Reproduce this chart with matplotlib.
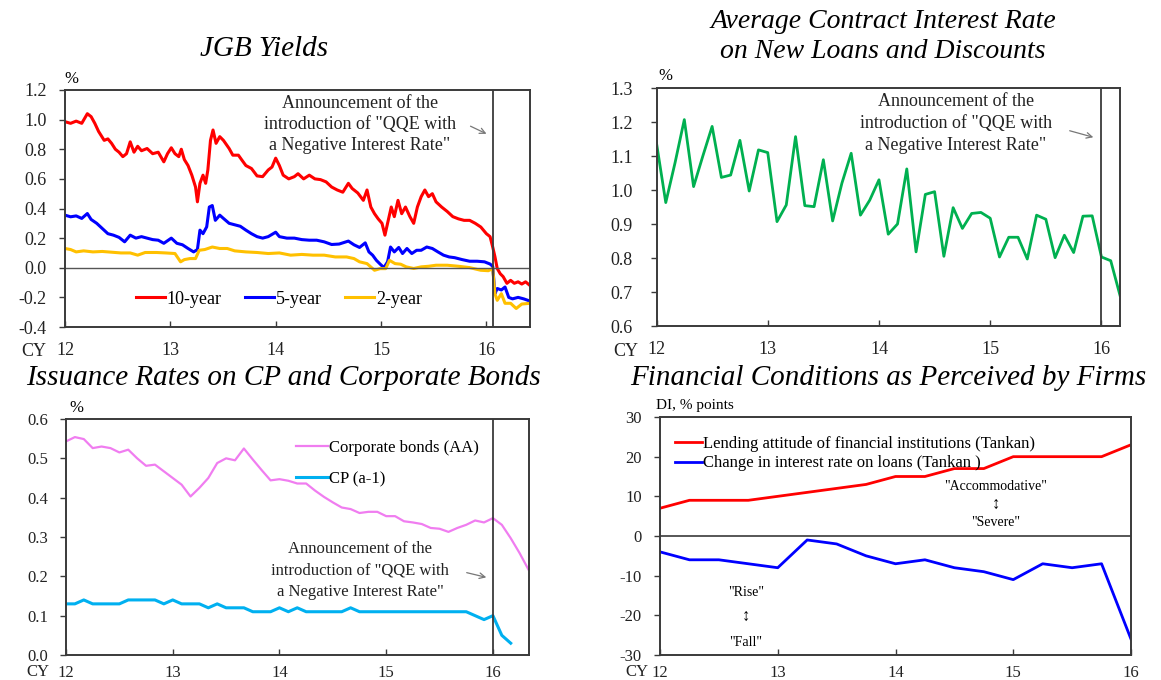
import numpy as np
import matplotlib
matplotlib.use("Agg")
import matplotlib.pyplot as plt

plt.rcParams['font.family'] = ['Liberation Serif', 'DejaVu Sans']

W, H = 1161, 680

# ---------------- Data ----------------
# JGB yields (decimal calendar years, %)
jgb10_t = [12.000, 12.053, 12.106, 12.159, 12.212, 12.248, 12.283, 12.319, 12.372, 12.407, 12.442, 12.478,
           12.513, 12.549, 12.584, 12.619, 12.655, 12.690, 12.726, 12.779, 12.832, 12.885, 12.938, 12.973,
           13.009, 13.044, 13.080, 13.104, 13.133, 13.168, 13.204, 13.239, 13.257, 13.281, 13.310, 13.335,
           13.356, 13.381, 13.405, 13.434, 13.469, 13.504, 13.558, 13.593, 13.646, 13.681, 13.717, 13.770,
           13.823, 13.876, 13.929, 13.965, 14.000, 14.035, 14.071, 14.124, 14.177, 14.212, 14.265, 14.319,
           14.372, 14.425, 14.478, 14.531, 14.584, 14.637, 14.690, 14.726, 14.779, 14.832, 14.867, 14.903,
           14.938, 14.973, 15.009, 15.037, 15.062, 15.097, 15.126, 15.161, 15.196, 15.232, 15.274, 15.310,
           15.345, 15.381, 15.416, 15.451, 15.487, 15.522, 15.575, 15.628, 15.681, 15.735, 15.788, 15.841,
           15.894, 15.947, 16.000, 16.035, 16.060, 16.081, 16.103, 16.131, 16.159, 16.195, 16.230, 16.265,
           16.301, 16.336, 16.372, 16.414]
jgb10_v = [0.986, 0.975, 0.99, 0.975, 1.04, 1.02, 0.975, 0.92, 0.86, 0.87, 0.84, 0.80,
           0.78, 0.75, 0.77, 0.85, 0.78, 0.82, 0.79, 0.805, 0.77, 0.78, 0.715, 0.77,
           0.81, 0.77, 0.75, 0.80, 0.73, 0.69, 0.625, 0.545, 0.445, 0.57, 0.625, 0.57,
           0.66, 0.86, 0.93, 0.84, 0.885, 0.86, 0.805, 0.76, 0.76, 0.725, 0.69, 0.67,
           0.62, 0.615, 0.66, 0.68, 0.74, 0.69, 0.625, 0.60, 0.615, 0.635, 0.60, 0.625,
           0.60, 0.595, 0.58, 0.545, 0.525, 0.51, 0.57, 0.535, 0.505, 0.455, 0.525, 0.41,
           0.365, 0.33, 0.30, 0.22, 0.30, 0.41, 0.345, 0.455, 0.365, 0.41, 0.345, 0.30,
           0.41, 0.48, 0.525, 0.48, 0.50, 0.445, 0.41, 0.38, 0.345, 0.33, 0.32, 0.32,
           0.30, 0.275, 0.23, 0.21, 0.14, 0.075, -0.005, -0.04, -0.06, -0.105, -0.085, -0.105,
           -0.095, -0.11, -0.095, -0.12]

jgb5_t = [12.000, 12.053, 12.106, 12.159, 12.212, 12.248, 12.301, 12.354, 12.407, 12.460, 12.513, 12.566,
          12.619, 12.673, 12.726, 12.779, 12.832, 12.885, 12.938, 13.009, 13.062, 13.115, 13.168, 13.221,
          13.257, 13.281, 13.310, 13.345, 13.370, 13.398, 13.427, 13.469, 13.504, 13.558, 13.611, 13.664,
          13.717, 13.770, 13.823, 13.876, 13.929, 14.000, 14.035, 14.106, 14.177, 14.248, 14.319, 14.389,
          14.460, 14.531, 14.602, 14.690, 14.743, 14.796, 14.850, 14.885, 14.920, 14.956, 14.991, 15.027,
          15.062, 15.090, 15.126, 15.168, 15.204, 15.246, 15.292, 15.338, 15.381, 15.434, 15.487, 15.540,
          15.593, 15.646, 15.699, 15.770, 15.841, 15.912, 15.982, 16.035, 16.060, 16.081, 16.103, 16.142,
          16.177, 16.212, 16.248, 16.301, 16.354, 16.414]
jgb5_v = [0.355, 0.344, 0.35, 0.333, 0.366, 0.326, 0.30, 0.265, 0.23, 0.22, 0.205, 0.175,
          0.22, 0.20, 0.21, 0.20, 0.19, 0.186, 0.165, 0.20, 0.165, 0.155, 0.13, 0.107,
          0.123, 0.254, 0.23, 0.276, 0.41, 0.42, 0.32, 0.355, 0.333, 0.30, 0.29, 0.28,
          0.254, 0.23, 0.21, 0.20, 0.21, 0.24, 0.21, 0.20, 0.20, 0.19, 0.186, 0.186,
          0.175, 0.157, 0.16, 0.18, 0.155, 0.137, 0.168, 0.107, 0.085, 0.05, 0.025, 0.001,
          0.04, 0.14, 0.107, 0.137, 0.096, 0.13, 0.096, 0.118, 0.118, 0.14, 0.13, 0.107,
          0.085, 0.073, 0.068, 0.055, 0.044, 0.044, 0.04, 0.025, 0.01, -0.175, -0.14, -0.15,
          -0.13, -0.20, -0.21, -0.20, -0.21, -0.225]

jgb2_t = [12.000, 12.053, 12.106, 12.177, 12.265, 12.354, 12.442, 12.531, 12.619, 12.690, 12.761, 12.867,
          12.956, 13.044, 13.097, 13.133, 13.186, 13.239, 13.274, 13.327, 13.398, 13.469, 13.540, 13.611,
          13.717, 13.823, 13.929, 14.035, 14.142, 14.248, 14.354, 14.460, 14.566, 14.673, 14.743, 14.796,
          14.867, 14.938, 14.991, 15.044, 15.080, 15.133, 15.186, 15.239, 15.310, 15.381, 15.451, 15.522,
          15.628, 15.735, 15.841, 15.947, 16.018, 16.060, 16.081, 16.103, 16.142, 16.177, 16.230, 16.283,
          16.336, 16.414]
jgb2_v = [0.13, 0.123, 0.107, 0.114, 0.107, 0.11, 0.105, 0.10, 0.10, 0.085, 0.103, 0.103,
          0.10, 0.096, 0.04, 0.055, 0.062, 0.062, 0.118, 0.123, 0.14, 0.13, 0.13, 0.114,
          0.107, 0.103, 0.096, 0.10, 0.085, 0.09, 0.085, 0.085, 0.073, 0.073, 0.062, 0.04,
          0.028, -0.017, -0.006, -0.006, 0.05, 0.028, 0.024, 0.006, -0.005, 0.006, 0.01, 0.017,
          0.017, 0.01, 0.001, -0.017, -0.02, -0.006, -0.175, -0.22, -0.175, -0.24, -0.24, -0.275,
          -0.245, -0.24]

# Average contract interest rate on new loans (monthly from Jan 2012, %)
loan_rate = [1.138, 0.963, 1.08, 1.207, 1.01, 1.10, 1.187, 1.037, 1.044, 1.146, 0.997, 1.118,
             1.11, 0.907, 0.956, 1.157, 0.954, 0.951, 1.089, 0.909, 1.02, 1.108, 0.926, 0.97,
             1.03, 0.87, 0.90, 1.062, 0.818, 0.987, 0.995, 0.805, 0.948, 0.887, 0.931, 0.934,
             0.917, 0.803, 0.861, 0.861, 0.797, 0.926, 0.914, 0.801, 0.867, 0.816, 0.923, 0.924,
             0.803, 0.792, 0.69]

# Issuance rates (monthly from Jan 2012, %)
corp_bonds = [0.543, 0.554, 0.549, 0.526, 0.53, 0.526, 0.515, 0.522, 0.50, 0.481, 0.484, 0.467,
              0.45, 0.433, 0.403, 0.425, 0.45, 0.488, 0.50, 0.495, 0.525, 0.497, 0.47, 0.444,
              0.447, 0.443, 0.436, 0.436, 0.418, 0.402, 0.388, 0.375, 0.371, 0.361, 0.364, 0.364,
              0.353, 0.353, 0.34, 0.337, 0.333, 0.323, 0.321, 0.313, 0.323, 0.331, 0.342, 0.337,
              0.348, 0.331, 0.297, 0.259, 0.217]
cp_rate = [0.13, 0.13, 0.14, 0.13, 0.13, 0.13, 0.13, 0.14, 0.14, 0.14, 0.14, 0.13,
           0.14, 0.13, 0.13, 0.13, 0.12, 0.13, 0.12, 0.12, 0.12, 0.11, 0.11, 0.11,
           0.12, 0.11, 0.12, 0.11, 0.11, 0.11, 0.11, 0.11, 0.12, 0.11, 0.11, 0.11,
           0.11, 0.11, 0.11, 0.11, 0.11, 0.11, 0.11, 0.11, 0.11, 0.11, 0.10, 0.09,
           0.10, 0.05, 0.03]

# Tankan (quarterly from 2012 Q1, DI % points)
lending_attitude = [7, 9, 9, 9, 10, 11, 12, 13, 15, 15, 17, 17, 20, 20, 20, 20, 23]
loan_rate_change = [-4, -6, -6, -7, -8, -1, -2, -5, -7, -6, -8, -9, -11, -7, -8, -7, -26]

year_ticks = [12, 13, 14, 15, 16]
year_labels = ["12", "13", "14", "15", "16"]
qqe_date_daily = 16.06
qqe_date_monthly = 16.0

# ---------------- Figure ----------------
fig = plt.figure(figsize=(W / 100, H / 100), dpi=100)


def ax_rect(l, t, r, b):
    return [l / W, 1 - b / H, (r - l) / W, (b - t) / H]


def fx(x):
    return x / W


def fy(y):
    return 1 - y / H


FRAME = '#3a3a3a'
TICK_FS = 13


def style(ax):
    for s in ax.spines.values():
        s.set_color(FRAME)
        s.set_linewidth(1.4)
    ax.tick_params(axis='x', direction='in', length=4, width=1, color=FRAME,
                   labelsize=TICK_FS, pad=11, labelcolor='#222222')
    ax.tick_params(axis='y', direction='out', length=4, width=1, color=FRAME,
                   labelsize=TICK_FS, pad=9, labelcolor='#222222')
    ax.set_xticks(year_ticks)
    ax.set_xticklabels(year_labels)


def announce(x, y0, arrow_from, arrow_to, fs=13):
    lines = ["Announcement of the", "introduction of \"QQE with", "a Negative Interest Rate\""]
    for i, s in enumerate(lines):
        fig.text(fx(x), fy(y0 + i * 21.5), s, ha='center', va='center', fontsize=fs,
                 color='#222222')
    fig.add_artist(matplotlib.patches.FancyArrowPatch(
        (fx(arrow_from[0]), fy(arrow_from[1])), (fx(arrow_to[0]), fy(arrow_to[1])),
        transform=fig.transFigure, arrowstyle='->', mutation_scale=10,
        color='#777777', lw=0.9))


# Panel 1: JGB yields
ax1 = fig.add_axes(ax_rect(65, 90, 530, 327))
style(ax1)
ax1.plot(jgb10_t, jgb10_v, color='#ff0000', lw=2.2, label='10-year')
ax1.plot(jgb5_t, jgb5_v, color='#0000ff', lw=2.2, label='5-year')
ax1.plot(jgb2_t, jgb2_v, color='#ffc000', lw=2.2, label='2-year')
ax1.axhline(0, color='#555555', lw=1.0)
ax1.axvline(qqe_date_daily, color=FRAME, lw=1.3)
ax1.set_xlim(12, 16.414)
ax1.set_ylim(-0.4, 1.2)
yt1 = np.arange(-0.4, 1.21, 0.2)
ax1.set_yticks(yt1)
ax1.set_yticklabels([f"{v:.1f}" for v in yt1])
ax1.legend(loc='center', bbox_to_anchor=(fx(279), fy(299)), bbox_transform=fig.transFigure,
           ncol=3, frameon=False, fontsize=13, handlelength=1.6, handletextpad=0.1,
           columnspacing=1.3)
fig.text(fx(264), fy(49), "JGB Yields", ha='center', va='center', fontsize=21, style='italic')
fig.text(fx(71), fy(79), "%", ha='center', va='center', fontsize=12)
fig.text(fx(34), fy(351), "CY", ha='center', va='center', fontsize=TICK_FS, color='#222222')
announce(360, 103, (468, 125), (489, 135))

# Panel 2: Average contract interest rate
ax2 = fig.add_axes(ax_rect(656.5, 88, 1120, 326))
style(ax2)
t2 = 12 + np.arange(len(loan_rate)) / 12
ax2.plot(t2, loan_rate, color='#00b050', lw=2.0)
ax2.axvline(qqe_date_monthly, color=FRAME, lw=1.3)
ax2.set_xlim(12, t2[-1])
ax2.set_ylim(0.6, 1.3)
yt2 = np.arange(0.6, 1.31, 0.1)
ax2.set_yticks(yt2)
ax2.set_yticklabels([f"{v:.1f}" for v in yt2])
ax2.tick_params(axis='y', pad=13)
fig.text(fx(883), fy(21), "Average Contract Interest Rate", ha='center', va='center', fontsize=20,
         style='italic')
fig.text(fx(883), fy(52), "on New Loans and Discounts", ha='center', va='center', fontsize=20,
         style='italic')
fig.text(fx(665), fy(76), "%", ha='center', va='center', fontsize=12)
fig.text(fx(626), fy(351), "CY", ha='center', va='center', fontsize=TICK_FS, color='#222222')
announce(956, 102, (1067, 130), (1096, 138))

# Panel 3: Issuance rates
ax3 = fig.add_axes(ax_rect(66, 419, 528.5, 655))
style(ax3)
t3 = 12 + np.arange(len(corp_bonds)) / 12
t3cp = 12 + np.arange(len(cp_rate)) / 12
ax3.plot(t3, corp_bonds, color='#f07df0', lw=1.6, label='Corporate bonds (AA)')
ax3.plot(t3cp, cp_rate, color='#00b0f0', lw=2.2, label='CP (a-1)')
ax3.axvline(qqe_date_monthly, color=FRAME, lw=1.3)
ax3.set_xlim(12, t3[-1])
ax3.set_ylim(0.0, 0.6)
yt3 = np.arange(0.0, 0.61, 0.1)
ax3.set_yticks(yt3)
ax3.set_yticklabels([f"{v:.1f}" for v in yt3])
ax3.tick_params(labelsize=12)
ax3.tick_params(axis='x', pad=7)
ax3.legend(loc='upper left', bbox_to_anchor=(fx(281), fy(425)), bbox_transform=fig.transFigure,
           frameon=False, fontsize=12, handlelength=1.9, handletextpad=0.1, labelspacing=0.9)
fig.text(fx(283), fy(378), "Issuance Rates on CP and Corporate Bonds", ha='center', va='center',
         fontsize=21, style='italic')
fig.text(fx(76), fy(408), "%", ha='center', va='center', fontsize=12)
fig.text(fx(38), fy(672), "CY", ha='center', va='center', fontsize=12, color='#222222')
announce(360, 549, (464, 572), (489, 578), fs=12)

# Panel 4: Financial conditions (Tankan)
ax4 = fig.add_axes(ax_rect(660, 417, 1131, 655))
style(ax4)
t4 = 12 + np.arange(len(lending_attitude)) / 4
ax4.plot(t4, lending_attitude, color='#ff0000', lw=2.0,
         label='Lending attitude of financial institutions (Tankan)')
ax4.plot(t4, loan_rate_change, color='#0000ff', lw=2.0,
         label='Change in interest rate on loans (Tankan )')
ax4.axhline(0, color=FRAME, lw=1.2)
ax4.set_xlim(12, 16)
ax4.set_ylim(-30, 30)
ax4.set_yticks([-30, -20, -10, 0, 10, 20, 30])
ax4.set_yticklabels(["-30", "-20", "-10", "0", "10", "20", "30"])
ax4.tick_params(labelsize=12)
ax4.tick_params(axis='x', pad=7)
ax4.legend(loc='upper left', bbox_to_anchor=(fx(660), fy(421)), bbox_transform=fig.transFigure,
           frameon=False, fontsize=12, handlelength=1.6, handletextpad=0.1, labelspacing=0.2)
fig.text(fx(888), fy(378), "Financial Conditions as Perceived by Firms", ha='center', va='center',
         fontsize=21, style='italic')
fig.text(fx(656), fy(406), "DI, % points", ha='left', va='center', fontsize=11)
fig.text(fx(637), fy(672), "CY", ha='center', va='center', fontsize=12, color='#222222')
fig.text(fx(996), fy(487), "\"Accommodative\"", ha='center', va='center', fontsize=10)
fig.text(fx(996), fy(505), "\u2195", ha='center', va='center', fontsize=12)
fig.text(fx(996), fy(523), "\"Severe\"", ha='center', va='center', fontsize=10)
fig.text(fx(746), fy(593), "\"Rise\"", ha='center', va='center', fontsize=10)
fig.text(fx(746), fy(617), "\u2195", ha='center', va='center', fontsize=12)
fig.text(fx(746), fy(642), "\"Fall\"", ha='center', va='center', fontsize=10)

fig.savefig("out.png", dpi=100)
